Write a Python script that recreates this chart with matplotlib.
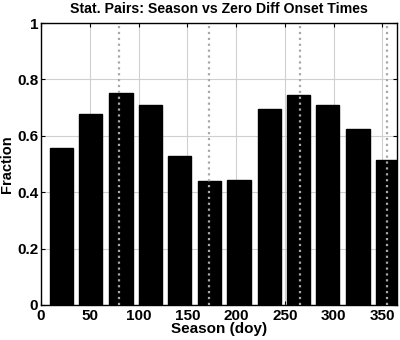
import numpy as np
import matplotlib
matplotlib.use("Agg")
import matplotlib.pyplot as plt

# season bin centres (day of year) and fraction of station pairs
season = [21, 51, 82, 112, 142, 173, 203, 234, 264, 294, 325, 355]
fraction = [0.557, 0.678, 0.753, 0.709, 0.528, 0.439, 0.445, 0.696, 0.744, 0.708, 0.625, 0.515]
# equinox / solstice markers
markers = [80, 172, 266, 355]

plt.rcParams['font.family'] = ['Liberation Sans', 'DejaVu Sans']
plt.rcParams['font.weight'] = 'bold'

fig = plt.figure(figsize=(4, 3.4), dpi=100)
ax = fig.add_axes([0.1025, 0.103, 0.89, 0.829])

ax.bar(season, fraction, width=24, color='black', edgecolor='black', zorder=2)
for m in markers:
    ax.axvline(m, color='#a8a8a8', linestyle=':', linewidth=1.6, zorder=3)

ax.set_xlim(0, 365)
ax.set_ylim(0, 1)
ax.set_xticks(np.arange(0, 351, 50))
ax.set_yticks([0, 0.2, 0.4, 0.6, 0.8, 1])
ax.set_yticklabels(['0', '0.2', '0.4', '0.6', '0.8', '1'])
ax.grid(True, color='#d0d0d0', linewidth=0.8, zorder=0)
ax.set_axisbelow(True)
ax.tick_params(direction='in', length=3, top=True, right=True, labelsize=11, pad=3)
ax.tick_params(axis='y', pad=2)
for lab in ax.get_xticklabels() + ax.get_yticklabels():
    lab.set_fontweight('bold')
for s in ax.spines.values():
    s.set_linewidth(1.0)

ax.set_title('Stat. Pairs: Season vs Zero Diff Onset Times', fontsize=10.2, fontweight='bold', pad=7)
ax.set_xlabel('Season (doy)', fontsize=11, fontweight='bold', labelpad=-1)
ax.set_ylabel('Fraction', fontsize=10.5, fontweight='bold', va='center')
ax.yaxis.set_label_coords(-0.095, 0.5)

fig.savefig('out.png', dpi=100)
